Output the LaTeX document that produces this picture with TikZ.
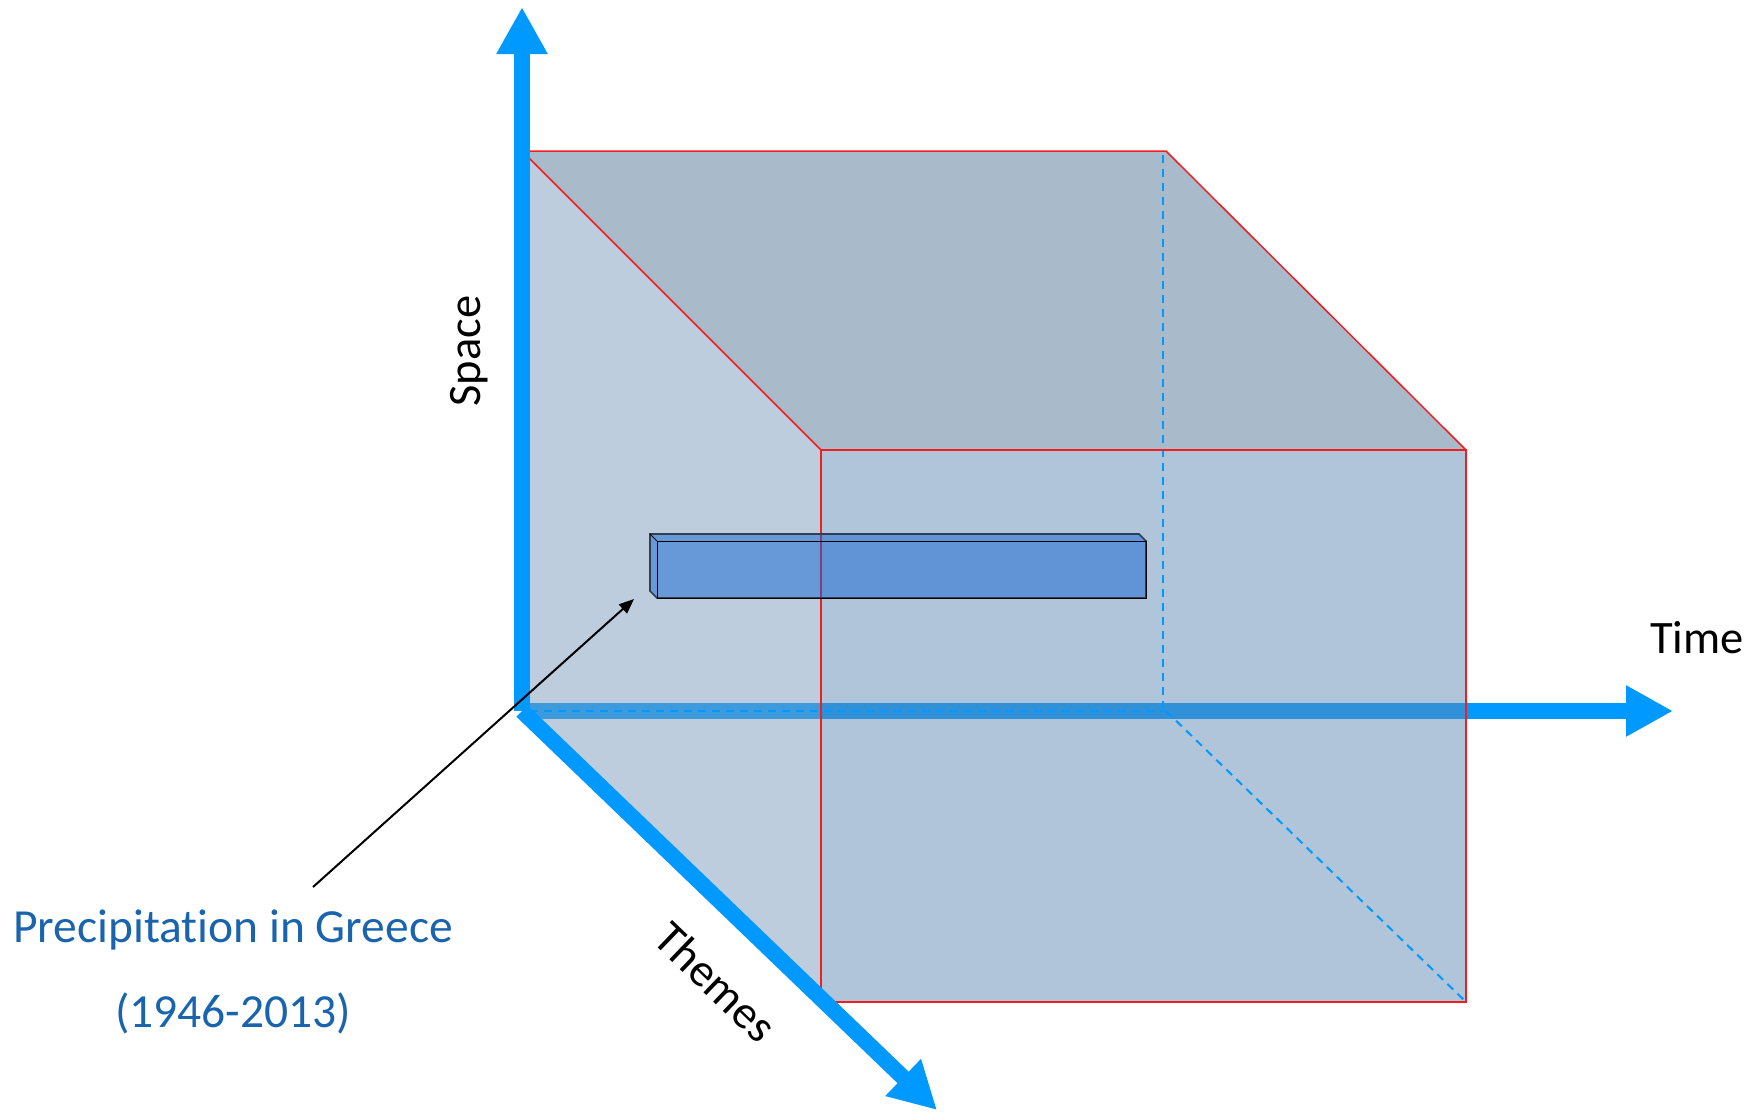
\documentclass[tikz,border=0pt]{standalone}
\usepackage{fontspec}
\setmainfont{Carlito}[Ligatures=CommonOff]
\usetikzlibrary{arrows.meta}
\definecolor{axisblue}{RGB}{0,153,255}
\definecolor{topface}{RGB}{83,119,151}
\definecolor{leftface}{RGB}{123,155,189}
\definecolor{frontface}{RGB}{97,139,181}
\definecolor{barfill}{RGB}{19,100,210}
\definecolor{baredge}{RGB}{47,63,80}
\definecolor{labelblue}{RGB}{26,100,174}
\definecolor{edgered}{RGB}{240,30,30}
\begin{document}
\begin{tikzpicture}[x=1pt,y=-1pt,
  axis/.style={draw=axisblue, line width=16pt, -{Triangle[length=47pt,width=48pt]}},
  face/.style={fill opacity=0.5, draw=none},
  hidden/.style={draw=axisblue, line width=2pt, dash pattern=on 8pt off 6pt},
  cubeedge/.style={draw=edgered, line width=1.5pt},
  lbl/.style={font=\fontsize{46.5}{56}\selectfont, inner sep=0pt},
  plbl/.style={font=\fontsize{47.5}{57}\selectfont, inner sep=0pt, text=labelblue},
  barface/.style={fill=barfill, fill opacity=0.5},
]
\useasboundingbox (0,0) rectangle (1755,1111);
% axis points
\coordinate (O) at (522,711);
\coordinate (spaceTip) at (522,7);
\coordinate (timeStart) at (530,711);
\coordinate (timeTip) at (1673,711);
\coordinate (themesTip) at (937,1110);
% cube corners
\coordinate (BTL) at (522,151);
\coordinate (BTR) at (1166,151);
\coordinate (BBR) at (1166,711);
\coordinate (BTRd) at (1163,155);
\coordinate (BBRd) at (1163,711);
\coordinate (FTL) at (821,450);
\coordinate (FTR) at (1466,450);
\coordinate (FBR) at (1466,1002);
\coordinate (FBL) at (821,1002);
% time axis (under the cube)
\draw[axis] (timeStart) -- (timeTip);
% cube faces
\fill[face, topface] (BTL) -- (BTR) -- (FTR) -- (FTL) -- cycle;
\fill[face, leftface] (BTL) -- (FTL) -- (FBL) -- (O) -- cycle;
\fill[face, frontface] (FTL) -- (FTR) -- (FBR) -- (FBL) -- cycle;
% hidden edges
\draw[hidden] (timeStart) -- (BBRd);
\draw[hidden] (BTRd) -- (BBRd);
\draw[hidden] (BBR) -- (FBR);
% visible edges
\draw[cubeedge] (FTL) -- (BTL) -- (BTR) -- (FTR);
\draw[cubeedge] (FTL) rectangle (FBR);
% space and themes axes
\draw[axis] (O) -- (spaceTip);
\draw[axis] (O) -- (themesTip);
% bar
\coordinate (b1) at (650,534);
\coordinate (b2) at (1139,534);
\coordinate (b3) at (1146,541);
\coordinate (b4) at (1146,598);
\coordinate (b5) at (657,598);
\coordinate (b6) at (650,591);
\coordinate (b7) at (657,541);
\fill[barface] (b1) -- (b2) -- (b3) -- (b4) -- (b5) -- (b6) -- cycle;
\draw[baredge, line width=1.6pt] (b1) -- (b2) -- (b3) -- (b4) -- (b5) -- (b6) -- cycle;
\draw[black, line width=1pt] (b7) rectangle (b4);
\draw[black, line width=0.8pt] (b1) -- (b7);
% labels
\node[lbl, anchor=base west] (time) at (1650,653) {Time};
\node[lbl, anchor=base, rotate=90] (space) at (480,351) {Space};
\node[lbl, rotate=-43.9] (themes) at (716,982) {Themes};
\node[plbl, anchor=base] (prec) at (233,942) {Precipitation in Greece};
\node[plbl, anchor=base] (years) at (233,1027) {(1946-2013)};
% leader
\coordinate (leadStart) at (313,887);
\coordinate (leadEnd) at (634,599);
\draw[black, line width=2pt, -{Triangle[length=15pt,width=12pt]}] (leadStart) -- (leadEnd);
\end{tikzpicture}
\end{document}
